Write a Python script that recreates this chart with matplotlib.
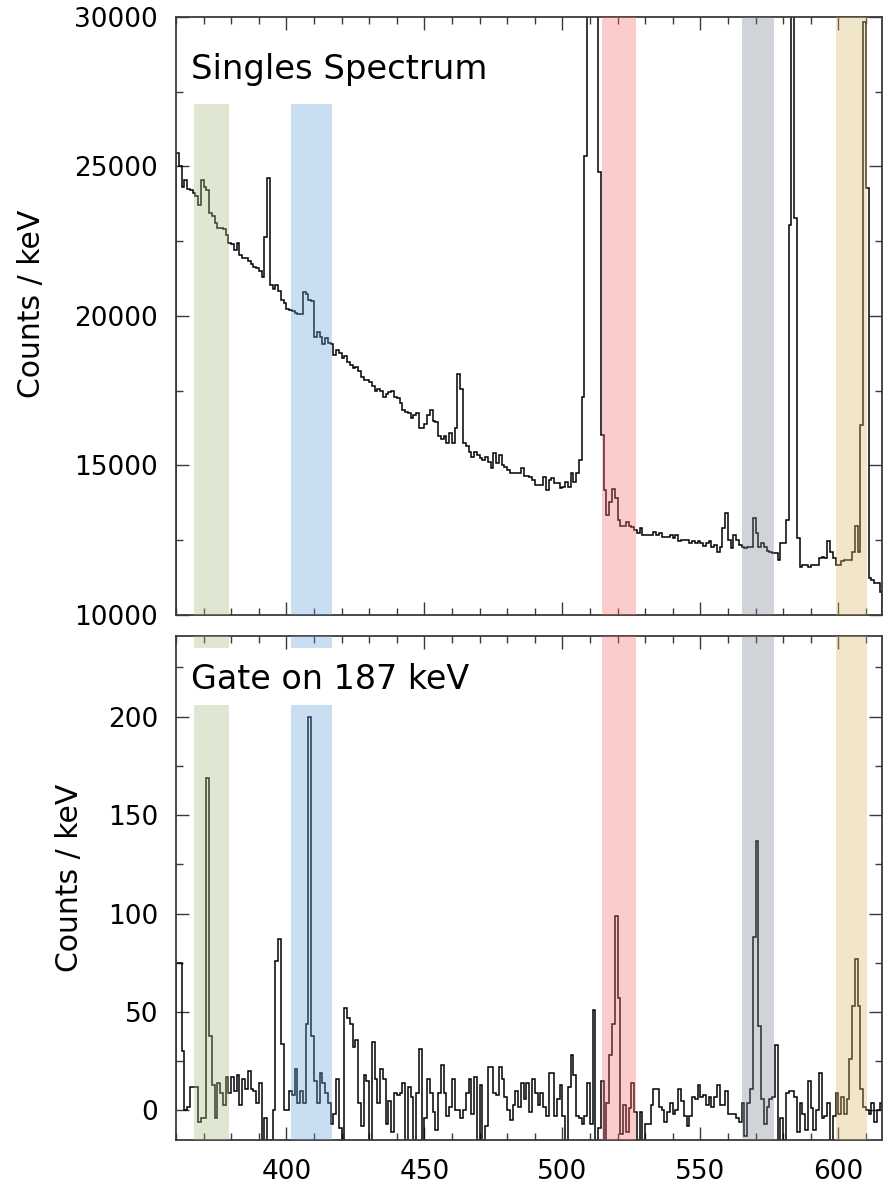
import numpy as np
import matplotlib.pyplot as plt
from matplotlib.ticker import MultipleLocator

# energy bins, 1 keV wide, from 360 to 616 keV
edges_keV = np.arange(360, 617)

# singles spectrum (counts per keV), bins starting at 360 keV
singles = [
    25440, 25000, 24300, 24550, 24250, 24200, 24100, 24000, 23700, 24550,  # 360
    24300, 24200, 23450, 23350, 23100, 22950, 22950, 22900, 22700, 22450,  # 370
    22400, 22200, 22450, 22050, 21950, 21950, 21850, 21750, 21650, 21600,  # 380
    21500, 21300, 22650, 24600, 21050, 20900, 21050, 20850, 20550, 20450,  # 390
    20250, 20200, 20150, 20100, 20080, 20050, 20800, 20750, 20550, 20500,  # 400
    19300, 19450, 19300, 19050, 19250, 19100, 19050, 18700, 18850, 18750,  # 410
    18600, 18650, 18450, 18350, 18250, 18300, 18150, 17950, 17850, 17850,  # 420
    17800, 17650, 17500, 17550, 17500, 17300, 17400, 17450, 17500, 17300,  # 430
    17250, 17100, 16850, 16800, 16750, 16600, 16700, 16750, 16250, 16250,  # 440
    16400, 16700, 16850, 16500, 16450, 16000, 15900, 16000, 15750, 16100,  # 450
    15750, 16250, 18050, 17550, 15750, 15650, 15460, 15300, 15460, 15350,  # 460
    15240, 15190, 15300, 15130, 14900, 15410, 15070, 15350, 15020, 14960,  # 470
    14850, 14740, 14740, 14760, 14740, 14930, 14650, 14650, 14630, 14520,  # 480
    14350, 14350, 14350, 14630, 14180, 14520, 14570, 14400, 14400, 14240,  # 490
    14290, 14460, 14290, 14760, 14460, 14740, 15190, 17300, 25360, 34000,  # 500
    52000, 61000, 38000, 24800, 16020, 14180, 13350, 13790, 14210, 13900,  # 510
    13180, 12960, 12960, 13120, 12960, 12930, 12850, 12730, 12900, 12680,  # 520
    12680, 12680, 12680, 12760, 12680, 12730, 12620, 12620, 12620, 12680,  # 530
    12570, 12680, 12460, 12510, 12510, 12510, 12400, 12490, 12400, 12490,  # 540
    12400, 12310, 12400, 12460, 12290, 12340, 12090, 12290, 12900, 13420,  # 550
    12510, 12230, 12680, 12510, 12340, 12290, 12230, 12290, 12290, 13240,  # 560
    12730, 12290, 12400, 12290, 12150, 12120, 12070, 12070, 11840, 12400,  # 570
    12400, 13180, 23040, 45000, 23270, 12570, 11620, 11680, 11680, 11620,  # 580
    11680, 11680, 11680, 11900, 11950, 11900, 12460, 12120, 11900, 11680,  # 590
    11680, 11790, 11840, 11840, 11840, 12120, 12960, 12120, 16360, 29840,  # 600
    24270, 11230, 11170, 11060, 11060, 10780,                              # 610
]

# coincidence spectrum gated on the 187 keV line
gated = [
    75, 75, 30, 0, 2, 12, 12, 12, -6, -4,           # 360
    -4, 169, 38, 13, -4, 14, 9, 3, 17, 9,           # 370
    17, 10, 18, 3, 16, 11, 20, 11, 10, 4,           # 380
    14, -15, -4, -15, -15, 0, 76, 87, 34, 0,        # 390
    0, 10, 8, 21, 4, 10, 4, 44, 200, 38,            # 400
    15, 4, 19, 14, 9, 4, -7, -2, 16, -9,            # 410
    -15, 52, 47, 44, 32, 36, 4, -8, 18, 15,         # 420
    -15, 35, 16, 4, 21, 16, -7, 5, -11, 9,          # 430
    8, 9, 14, -15, 12, 7, -15, 9, 31, -15,          # 440
    -4, 16, 9, -1, -10, 9, 23, 9, -3, 2,            # 450
    16, 0, 0, -4, 0, 9, 16, -2, 17, -15,            # 460
    13, -15, -8, 22, 22, 9, 8, 22, 16, 7,           # 470
    0, -5, 3, 10, 2, 14, 6, 14, -1, 16,             # 480
    9, 3, 9, 2, -3, 19, 19, -3, 6, 13,              # 490
    -3, -15, 12, 28, 18, -3, -4, -7, -3, 14,        # 500
    -7, 51, -15, -9, 15, -15, 4, 28, 44, 99,        # 510
    57, -12, 3, -11, 1, 14, -1, -15, -1, -15,       # 520
    -7, -7, 3, 11, 11, 2, 0, -6, -1, 4,             # 530
    -2, 0, 11, 5, -3, -8, -3, 7, 6, 13,             # 540
    7, 8, 3, 7, 2, 7, 13, 3, 3, 10,                 # 550
    -2, -2, -2, -4, -6, 4, -13, 4, 11, 88,          # 560
    137, 43, 6, -7, 2, 6, 7, 33, -15, -4,           # 570
    -15, 9, 10, 10, 7, -11, 4, -2, -10, 15,         # 580
    1, -10, 0, 19, -4, -3, 4, -15, -3, 9,           # 590
    -2, 7, -2, 6, 26, 53, 77, 53, 11, 2,            # 600
    0, -2, 4, -6, 0, 4,                             # 610
]

# highlighted gamma lines (keV)
band_lo = [366.5, 401.5, 514.2, 565.0, 599.3]
band_hi = [379.3, 416.7, 526.8, 576.6, 610.5]
band_colors = ['#a4ba7e', '#65a4d7', '#f96b6b', '#79818f', '#d7ba65']

top_ylim = (10000, 30000)
bottom_ylim = (-15, 241)

fig = plt.figure(figsize=(8.89, 11.87), dpi=100)
ax1 = fig.add_axes([0.198, 0.4819, 0.794, 0.5038])
ax2 = fig.add_axes([0.198, 0.0396, 0.794, 0.4246])

spine_col = '#3a3a3a'
for ax in (ax1, ax2):
    ax.set_xlim(360, 615.8)
    ax.xaxis.set_major_locator(MultipleLocator(50))
    ax.xaxis.set_minor_locator(MultipleLocator(10))
    ax.tick_params(which='both', direction='in', top=True, right=True,
                   color=spine_col, width=1.0, labelsize=19)
    ax.tick_params(axis='y', pad=13)
    ax.tick_params(axis='x', pad=14)
    ax.tick_params(which='major', length=9.5)
    ax.tick_params(which='minor', length=5)
    for s in ax.spines.values():
        s.set_color(spine_col)
        s.set_linewidth(1.3)

# upper panel: singles
ax1.stairs(singles, edges_keV, color='black', lw=1.1, zorder=2)
ax1.set_ylim(*top_ylim)
ax1.yaxis.set_major_locator(MultipleLocator(5000))
ax1.yaxis.set_minor_locator(MultipleLocator(2500))
ax1.tick_params(labelbottom=False)
ax1.set_ylabel('Counts / keV', fontsize=21.5)
ax1.yaxis.set_label_coords(-0.184, 0.52)
ax1.text(0.021, 0.913, 'Singles Spectrum', transform=ax1.transAxes,
         fontsize=24.4, va='center')
for i in range(len(band_lo)):
    y_top = 27100 if i < 2 else top_ylim[1]
    ax1.fill_betweenx([top_ylim[0], y_top], band_lo[i], band_hi[i],
                      color=band_colors[i], alpha=0.35, lw=0, zorder=3)

# lower panel: gated
ax2.stairs(gated, edges_keV, color='black', lw=1.1, zorder=2)
ax2.set_ylim(*bottom_ylim)
ax2.yaxis.set_major_locator(MultipleLocator(50))
ax2.yaxis.set_minor_locator(MultipleLocator(25))
ax2.set_ylabel('Counts / keV', fontsize=21.5)
ax2.yaxis.set_label_coords(-0.13, 0.52)
ax2.text(0.021, 0.913, 'Gate on 187 keV', transform=ax2.transAxes,
         fontsize=24, va='center')
for i in range(len(band_lo)):
    if i < 2:
        # leave room for the panel title
        ax2.fill_betweenx([bottom_ylim[0], 206], band_lo[i], band_hi[i],
                          color=band_colors[i], alpha=0.35, lw=0, zorder=3)
        ax2.fill_betweenx([235, bottom_ylim[1]], band_lo[i], band_hi[i],
                          color=band_colors[i], alpha=0.35, lw=0, zorder=3)
    else:
        ax2.fill_betweenx(list(bottom_ylim), band_lo[i], band_hi[i],
                          color=band_colors[i], alpha=0.35, lw=0, zorder=3)

fig.savefig('out.png', dpi=100)
